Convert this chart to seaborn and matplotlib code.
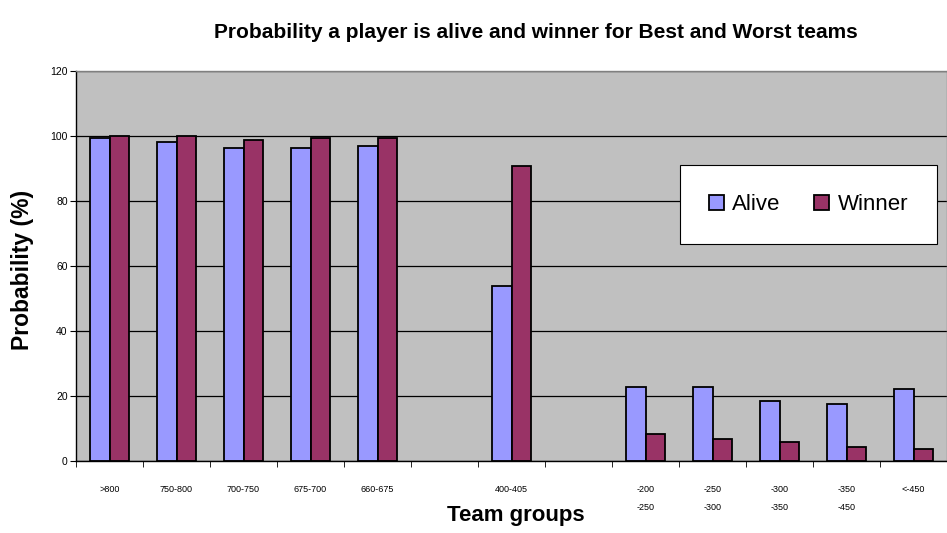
"""Probability a player is alive and winner for best and worst team groups."""

import pandas as pd
import matplotlib
matplotlib.use("Agg")
import matplotlib.pyplot as plt
import seaborn as sns

groups = [">800", "750-800", "700-750", "675-700", "660-675", "gap1",
          "400-405", "gap2", "-200\n-250", "-250\n-300", "-300\n-350",
          "-350\n-450", "<-450"]
tick_labels = [">800", "750-800", "700-750", "675-700", "660-675", "",
               "400-405", "", "-200\n-250", "-250\n-300", "-300\n-350",
               "-350\n-450", "<-450"]
alive = [99.4, 98.2, 96.3, 96.3, 96.9, None, 53.8, None, 22.7, 22.7, 18.5, 17.4, 22.1]
winner = [100.0, 100.0, 98.8, 99.4, 99.4, None, 90.9, None, 8.4, 6.7, 6.0, 4.2, 3.7]

df = pd.DataFrame({
    "group": groups * 2,
    "series": ["Alive"] * len(groups) + ["Winner"] * len(groups),
    "prob": alive + winner,
})

sns.set_style("white")
plt.rcParams["font.family"] = ["Liberation Sans", "DejaVu Sans"]
plt.rcParams["text.color"] = "black"
plt.rcParams["xtick.color"] = "black"
plt.rcParams["ytick.color"] = "black"
plt.rcParams["axes.labelcolor"] = "black"

fig = plt.figure(figsize=(9.47, 5.33), dpi=100)
ax = fig.add_axes([76 / 947, 72 / 533, 871 / 947, 390 / 533])
ax.set_facecolor("#C0C0C0")

sns.barplot(data=df, x="group", y="prob", hue="series", order=groups,
            hue_order=["Alive", "Winner"], palette=["#9999FF", "#993366"],
            saturation=1, width=0.58, edgecolor="black", linewidth=1.3, ax=ax)

ax.set_ylim(0, 120)
ax.set_xlim(-0.5, len(groups) - 0.5)
ax.set_yticks(range(0, 121, 20))
ax.yaxis.grid(True, color="black", linewidth=0.9)
ax.set_axisbelow(True)
ax.tick_params(axis="y", labelsize=7.5, length=4, direction="out", left=True, pad=2)

ax.set_xticks(range(len(groups)))
ax.set_xticklabels(tick_labels, fontsize=6.5, linespacing=2.3)
ax.tick_params(axis="x", which="major", length=0, pad=17)
ax.set_xticks([i - 0.5 for i in range(len(groups) + 1)], minor=True)
ax.tick_params(axis="x", which="minor", length=4, direction="out", bottom=True)

for side in ["left", "bottom"]:
    ax.spines[side].set_color("black")
    ax.spines[side].set_linewidth(1)
for side in ["top", "right"]:
    ax.spines[side].set_color("#808080")
    ax.spines[side].set_linewidth(1)

ax.set_xlabel("")
ax.set_ylabel("")
fig.text(23 / 947, 1 - 270 / 533, "Probability (%)", rotation=90,
         ha="center", va="center", fontsize=16.5, fontweight="bold")
fig.text(516 / 947, 1 - 516 / 533, "Team groups", ha="center", va="center",
         fontsize=16, fontweight="bold")

fig.text(536 / 947, 1 - 32 / 533,
         "Probability a player is alive and winner for Best and Worst teams",
         ha="center", va="center", fontsize=15, fontweight="bold")

ax.legend(loc="center", bbox_to_anchor=(0.841, 0.657), ncol=2, fontsize=16,
          frameon=True, fancybox=False, edgecolor="black", framealpha=1,
          borderpad=1.3, handlelength=0.65, handleheight=0.65,
          handletextpad=0.4, columnspacing=1.5)
ax.get_legend().get_frame().set_linewidth(0.8)

plt.savefig("out.png", dpi=100)
plt.close()
